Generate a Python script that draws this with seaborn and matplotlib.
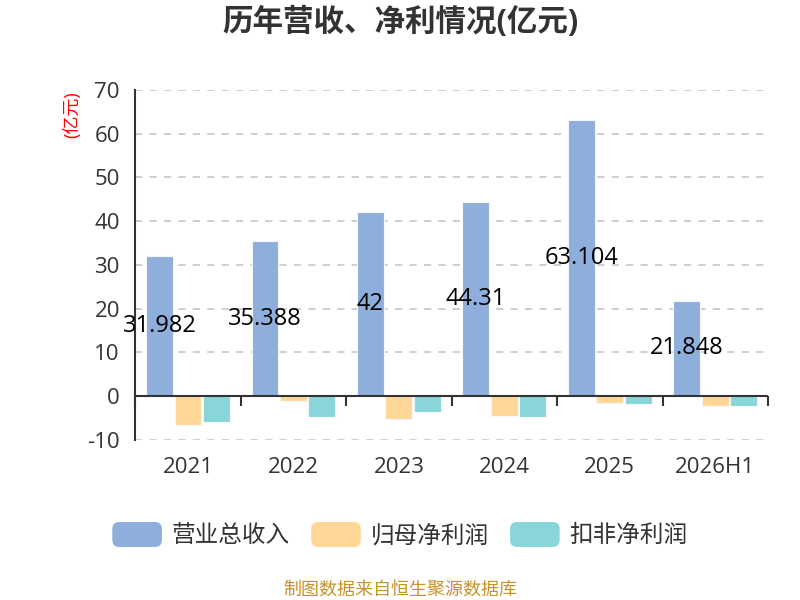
import matplotlib
matplotlib.use('Agg')
import matplotlib.pyplot as plt
import seaborn as sns
import pandas as pd
from matplotlib.patches import FancyBboxPatch
from matplotlib.legend_handler import HandlerPatch

# data (亿元)
years = ['2021', '2022', '2023', '2024', '2025', '2026H1']
revenue = [31.982, 35.388, 42, 44.31, 63.104, 21.848]
net_profit = [-6.6, -1.1, -5.3, -4.6, -1.6, -2.2]
deducted_profit = [-6.0, -4.7, -3.7, -4.8, -1.7, -2.2]
series_names = ['营业总收入', '归母净利润', '扣非净利润']
colors = ['#8eaedb', '#ffd897', '#88d6da']

df = pd.DataFrame({
    'year': years * 3,
    'series': [series_names[0]] * 6 + [series_names[1]] * 6 + [series_names[2]] * 6,
    'value': revenue + net_profit + deducted_profit,
})

sns.set_style('white')
plt.rcParams['font.family'] = ['Open Sans', 'Noto Sans CJK SC', 'DejaVu Sans']
plt.rcParams['axes.unicode_minus'] = False

fig = plt.figure(figsize=(8, 6), dpi=100)
ax = fig.add_axes([0.169, 0.2667, 0.791, 0.5833])

sns.barplot(data=df, x='year', y='value', hue='series', palette=colors,
            saturation=1, width=0.81, gap=0.06, edgecolor='#f4f7fb', linewidth=0.8,
            ax=ax, zorder=3)

ax.set_ylim(-10, 70)
ax.set_xlim(-0.5, 5.5)
ax.set_yticks(range(-10, 71, 10))
ax.yaxis.grid(True, linestyle=(0, (4, 4)), color='#cccccc', linewidth=1.3, zorder=0)
ax.set_axisbelow(True)
ax.axhline(0, color='#333333', linewidth=1.5, zorder=4)

for s in ['top', 'right', 'bottom']:
    ax.spines[s].set_visible(False)
ax.spines['left'].set_color('#333333')
ax.spines['left'].set_linewidth(1.5)

ax.tick_params(axis='y', length=6, color='#999999', labelsize=16, labelcolor='#333333', pad=5)
ax.tick_params(axis='x', length=0, labelsize=16, labelcolor='#333333', pad=12)
ax.set_xlabel('')
ax.set_ylabel('')

# category boundary ticks on the zero line
sec = ax.secondary_xaxis(0.125)
sec.set_xticks([i - 0.5 for i in range(7)])
sec.set_xticklabels([])
sec.tick_params(length=7, width=1.5, color='#333333', direction='out')
sec.spines['bottom'].set_visible(False)

ax.bar_label(ax.containers[0], labels=[f'{v:g}' for v in revenue],
             label_type='center', fontsize=17, color='black', zorder=5)

ax.text(-0.1, 0.995, '(亿元)', transform=ax.transAxes, rotation=90,
        color='red', fontsize=13, ha='center', va='top')

fig.text(0.5, 0.962, '历年营收、净利情况(亿元)', ha='center', va='center',
         fontsize=22, fontweight='bold', color='#333333')


class RoundHandler(HandlerPatch):
    def create_artists(self, legend, orig_handle, xdescent, ydescent,
                       width, height, fontsize, trans):
        p = FancyBboxPatch((-xdescent, -ydescent), width, height,
                           boxstyle='round,pad=0,rounding_size=5',
                           facecolor=orig_handle.get_facecolor(),
                           edgecolor='none', transform=trans)
        return [p]


handles = [plt.Rectangle((0, 0), 1, 1, facecolor=c) for c in colors]
ax.get_legend().remove()
leg = fig.legend(handles, series_names, loc='center', bbox_to_anchor=(0.5, 0.108),
                 ncol=3, frameon=False, fontsize=17, handlelength=2.1, handleheight=1.25,
                 columnspacing=0.9, handletextpad=0.42,
                 handler_map={plt.Rectangle: RoundHandler()})
for t in leg.get_texts():
    t.set_color('#333333')

fig.text(0.5, 0.018, '制图数据来自恒生聚源数据库', ha='center', va='center',
         fontsize=13, color='#c8922a')

fig.savefig('out.png', dpi=100)
